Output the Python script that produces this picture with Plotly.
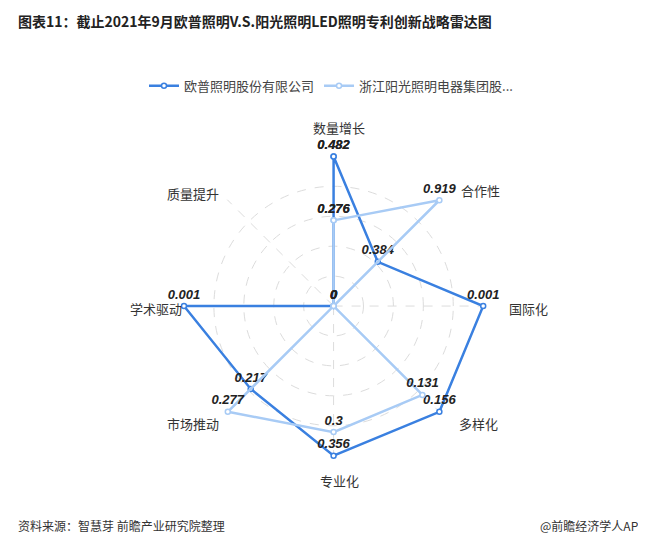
import plotly.graph_objects as go

categories = ["数量增长", "合作性", "国际化", "多样化", "专业化", "市场推动", "学术驱动", "质量提升"]
opple = [0.482, 0.384, 0.001, 0.156, 0.356, 0.217, 0.001, 0]
yankon = [0.276, 0.919, 0, 0.131, 0.3, 0.277, 0, 0]
names = ["欧普照明股份有限公司", "浙江阳光照明电器集团股..."]

maxes = [max(a, b) if max(a, b) > 0 else 1 for a, b in zip(opple, yankon)]

def norm(v):
    return [x / m for x, m in zip(v, maxes)]

def closed(l):
    return l + l[:1]

def fmt(v):
    return [("%g" % x) for x in v]

FONT = "Noto Sans CJK SC"
W, H = 646, 537
fig = go.Figure()
for vals, name, col in [
    (opple, names[0], "#3a80e0"),
    (yankon, names[1], "#a8cbf5"),
]:
    fig.add_trace(go.Scatterpolar(
        r=closed(norm(vals)), theta=closed(categories), name=name,
        mode="lines+markers+text", text=closed(fmt(vals)),
        textposition="top center",
        textfont=dict(family="Liberation Sans", size=13, color="#222", style="italic", weight="bold"),
        line=dict(color=col, width=2.5),
        marker=dict(size=5, color="white", line=dict(color=col, width=1.5)),
        cliponaxis=False,
    ))

# category label placement (pixel positions around the radar)
label_pos = {
    "数量增长": (331, 120, "center"), "合作性": (472, 182, "center"), "国际化": (499, 300, "left"),
    "多样化": (470, 415, "center"), "专业化": (331, 472, "center"), "市场推动": (185, 415, "center"),
    "学术驱动": (176, 300, "right"), "质量提升": (185, 185, "center"),
}
anns = []
for c in categories:
    px, py, anc = label_pos[c]
    anns.append(dict(text=c, x=px / W, y=1 - py / H, xref="paper", yref="paper", xanchor=anc,
                     yanchor="middle", showarrow=False, font=dict(size=13, color="#333", family=FONT)))

fig.update_layout(
    width=W, height=H,
    margin=dict(l=0, r=0, t=0, b=0),
    paper_bgcolor="white",
    font=dict(family=FONT, color="#333"),
    showlegend=True,
    legend=dict(orientation="h", x=0.5, xanchor="center", y=0.855, yanchor="middle",
                font=dict(size=13, color="#444"), traceorder="normal"),
    polar=dict(
        domain=dict(x=[0.271, 0.737], y=[0.165, 0.725]),
        bgcolor="white",
        radialaxis=dict(range=[0, 1.005], showticklabels=False, ticks="", showline=False,
                        gridcolor="#dcdcdc", griddash="dash", tickvals=[0.2, 0.4, 0.6, 0.8, 1.0]),
        angularaxis=dict(rotation=90, direction="clockwise", showline=False,
                         gridcolor="#dcdcdc", griddash="dash", ticks="", showticklabels=False),
    ),
    annotations=anns + [
        dict(text="<b>图表11：截止2021年9月欧普照明V.S.阳光照明LED照明专利创新战略雷达图</b>",
             x=0.012, y=0.975, xref="paper", yref="paper", xanchor="left", yanchor="middle",
             showarrow=False, font=dict(size=14, color="#222", family=FONT)),
        dict(text="资料来源：智慧芽 前瞻产业研究院整理", x=0.012, y=0.037, xref="paper", yref="paper",
             xanchor="left", yanchor="middle", showarrow=False, font=dict(size=12, color="#333", family=FONT)),
        dict(text="@前瞻经济学人APP", x=0.99, y=0.037, xref="paper", yref="paper",
             xanchor="right", yanchor="middle", showarrow=False, font=dict(size=12, color="#333", family=FONT)),
    ],
)
fig.write_html("out.html")
